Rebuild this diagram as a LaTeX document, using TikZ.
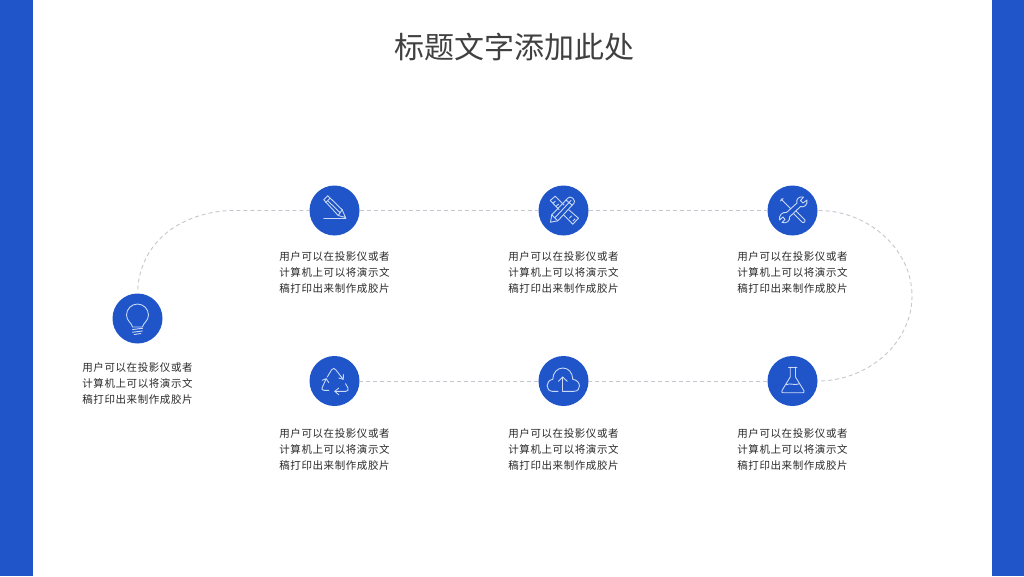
\documentclass[tikz,border=0pt]{standalone}
\usepackage{fontspec}
\setmainfont{Noto Sans CJK SC}
\newfontfamily\bodycjk[LetterSpace=5.5]{Noto Sans CJK SC}
\usetikzlibrary{backgrounds}
\definecolor{brandblue}{HTML}{1F55C9}
\definecolor{iconline}{HTML}{C9D9F6}
\definecolor{linkgray}{HTML}{C4C8CE}
\definecolor{bodytext}{HTML}{2A2A2A}
\definecolor{titletext}{HTML}{404040}
\tikzset{
  stage/.style={circle,fill=brandblue,minimum size=50pt,inner sep=0pt},
  caption/.style={font=\bodycjk\fontsize{10.5}{16}\selectfont,text=bodytext,align=center,inner sep=0pt},
  link/.style={draw=linkgray,line width=0.9pt,dash pattern=on 4pt off 3pt},
  icon/.style={draw=iconline,line width=0.9pt,line join=round,line cap=round},
  sidebar/.style={fill=brandblue,draw=none}
}
\begin{document}
\begin{tikzpicture}[x=1pt,y=-1pt]
\useasboundingbox (0,0) rectangle (1024,576);
\node[font=\fontsize{30}{34}\selectfont,text=titletext,inner sep=0pt] (title) at (514,47) {标题文字添加此处};
\node[stage] (bulb) at (137.5,318.5) {};
\node[stage] (pen) at (334.5,210.5) {};
\node[stage] (tools) at (563.5,210.5) {};
\node[stage] (wrench) at (792.5,210.5) {};
\node[stage] (recycle) at (334.5,381) {};
\node[stage] (cloud) at (563.5,381) {};
\node[stage] (flask) at (792.5,381) {};
\coordinate (bend) at (228,210.5);
\coordinate (far) at (912,296);
\begin{scope}[on background layer]
\fill[white] (0,0) rectangle (1024,576);
\fill[sidebar] (0,0) rectangle (32.5,576);
\fill[sidebar] (991.5,0) rectangle (1024,576);
\draw[link,shorten <=4pt] (bulb.north) .. controls (140,250) and (170,215) .. (bend) -- (pen.west);
\draw[link] (pen.east) -- (tools.west);
\draw[link] (tools.east) -- (wrench.west);
\draw[link,shorten <=1pt] (wrench.east) .. controls (868,210.5) and (912,249) .. (far) .. controls (912,343) and (868,381) .. (flask.east);
\draw[link] (flask.west) -- (cloud.east);
\draw[link] (cloud.west) -- (recycle.east);
\end{scope}
% captions
\node[caption] (c1) at (137.5,383.5) {用户可以在投影仪或者\\计算机上可以将演示文\\稿打印出来制作成胶片};
\node[caption] (c2) at (334.5,272.5) {用户可以在投影仪或者\\计算机上可以将演示文\\稿打印出来制作成胶片};
\node[caption] (c3) at (563.5,272.5) {用户可以在投影仪或者\\计算机上可以将演示文\\稿打印出来制作成胶片};
\node[caption] (c4) at (792.5,272.5) {用户可以在投影仪或者\\计算机上可以将演示文\\稿打印出来制作成胶片};
\node[caption] (c5) at (334.5,449.5) {用户可以在投影仪或者\\计算机上可以将演示文\\稿打印出来制作成胶片};
\node[caption] (c6) at (563.5,449.5) {用户可以在投影仪或者\\计算机上可以将演示文\\稿打印出来制作成胶片};
\node[caption] (c7) at (792.5,449.5) {用户可以在投影仪或者\\计算机上可以将演示文\\稿打印出来制作成胶片};
% bulb icon
\begin{scope}[shift={(bulb)},icon]
\draw (-5,8.5) .. controls (-5.5,4.5) and (-11,2.5) .. (-11,-3.5) .. controls (-11,-9.5) and (-6,-14.5) .. (0,-14.5) .. controls (6,-14.5) and (11,-9.5) .. (11,-3.5) .. controls (11,2.5) and (5.5,4.5) .. (5,8.5) -- cycle;
\draw (-5,11) -- (5,9.8);
\draw (-5,13.7) -- (5,12.5);
\draw (-3.5,16) -- (3.5,15);
\end{scope}
% pencil icon
\begin{scope}[shift={(pen)},icon]
\draw (-10.7,-10.7) -- (-6.7,-14.7) -- (7.7,-0.7) -- (11,7) -- (3.7,5) -- cycle;
\draw (-8.7,-8) -- (-4.5,-12.3);
\draw (-6.3,-9.3) -- (5.7,2.3);
\draw (3.7,5) -- (7.7,-0.7);
\draw (-10.7,7.5) -- (11.5,7.5);
\end{scope}
% pencil and ruler icon
\begin{scope}[shift={(tools)},icon]
\draw (-13,11.7) -- (-11.7,4.3) -- (4.3,-12.3) -- (6.5,-13.5) -- (9.3,-12.3) -- (11,-9.5) -- (10.5,-7.3) -- (-5.7,10.3) -- cycle;
\draw (-11.7,4.3) -- (-5.7,10.3);
\draw (-8.7,7.3) -- (7.5,-10);
\draw (2.5,-10.5) -- (8.8,-5.2);
\draw (-4.5,-1) -- (-13.3,-10) -- (-8.3,-14.3) -- (0.5,-5.5);
\draw (-10.5,-7.3) -- (-8.2,-9.3);
\draw (-7.3,-4.3) -- (-5,-6.3);
\draw (5.5,-0.5) -- (15,7.7) -- (9.3,13.7) -- (0.3,4.5);
\draw (8,5.5) -- (6,7.5);
\draw (11.5,8.5) -- (9.5,10.5);
\end{scope}
% wrench and screwdriver icon
\begin{scope}[shift={(wrench)},icon]
\draw (-11.5,-11.5) -- (-2,-2);
\draw (-12,-9.5) -- (-9.5,-12);
\draw (3.5,0.5) -- (12.5,9.5) .. controls (13.5,11) and (11.5,13) .. (10,12) -- (1,3);
\draw (-6,2) -- (4.5,-7.5) .. controls (3,-11) and (6.5,-14.5) .. (11,-13.5) -- (8,-10) -- (10.5,-7.5) -- (14.5,-10.5) .. controls (15.5,-5.5) and (11,-2.5) .. (8,-4) -- (-3,6.5) .. controls (-2,10) and (-6,13.5) .. (-10.5,12) -- (-7.5,9) -- (-9.5,6.5) -- (-13,9.5) .. controls (-14,5) and (-10,1) .. (-6,2) -- cycle;
\end{scope}
% recycle icon
\begin{scope}[shift={(recycle)},icon]
\draw (-7.3,-4) -- (-2.8,-11.3) .. controls (-1.8,-13) and (0.2,-13) .. (1.2,-11.3) -- (8.7,-1.7);
\draw (9,-6.5) -- (8.7,-1.7) -- (4.3,-3);
\draw (-5.7,9.3) -- (-10.5,9.3) .. controls (-12.5,9.3) and (-13,8) .. (-12.3,6.5) -- (-8.3,-2.3);
\draw (-12.3,-0.7) -- (-8.3,-2.3) -- (-5.7,1.7);
\draw (11,2.7) -- (13.5,7) .. controls (14.3,9) and (13,10.3) .. (11.5,10.3) -- (0.3,10.3);
\draw (4.3,7) -- (0.3,10.3) -- (4.3,13.7);
\end{scope}
% cloud icon
\begin{scope}[shift={(cloud)},icon]
\draw (-5.5,10.3) -- (-11,10.3) .. controls (-18,10.3) and (-18.5,-0.5) .. (-10.7,-1.7) .. controls (-10.7,-8.5) and (-6,-13) .. (-0.7,-13) .. controls (5,-13) and (9,-8.5) .. (9.3,-1.7) .. controls (18,-0.5) and (18,10.3) .. (10.5,10.3) -- (-0.7,10.3);
\draw (-0.7,10.3) -- (-0.7,-4);
\draw (-5,0.3) -- (-0.7,-4) -- (3.7,0.3);
\end{scope}
% flask icon
\begin{scope}[shift={(flask)},icon]
\draw (-4,-14) -- (4.3,-14);
\draw (-2.3,-14) -- (-2.3,-4) -- (-10.5,9.5) .. controls (-11.2,11) and (-10.5,11.7) .. (-9.5,11.7) -- (10.5,11.7) .. controls (11.5,11.7) and (12,11) .. (11.3,9.5) -- (3,-4) -- (3,-14);
\draw (-6.3,3.7) .. controls (-2,1.5) and (2,5) .. (7,2.7);
\end{scope}
\end{tikzpicture}
\end{document}
